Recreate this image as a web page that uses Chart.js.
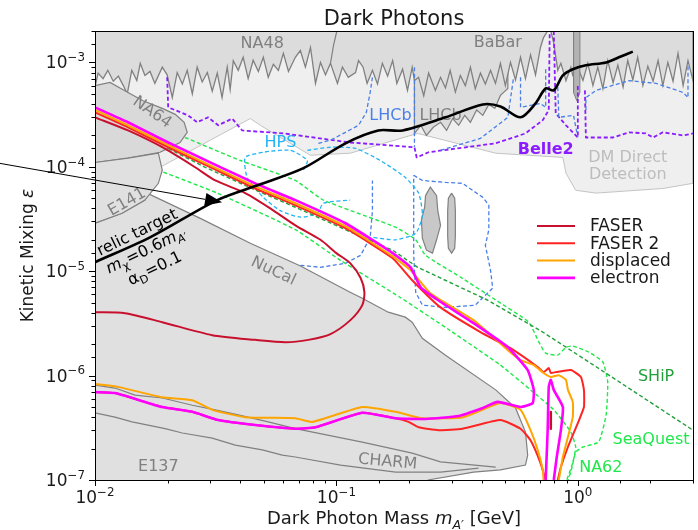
<!DOCTYPE html>
<html>
<head>
<meta charset="utf-8">
<script src="https://cdn.jsdelivr.net/npm/chart.js@4.4.0/dist/chart.umd.min.js"></script>
<style>
  html, body { margin: 0; padding: 0; background: #fff; }
  #wrap { width: 698px; height: 530px; }
</style>
</head>
<body>
<div id="wrap"><canvas id="dp" width="698" height="530"></canvas></div>
<script>
// values: mass m_A' in GeV, kinetic mixing eps

// light grey band (below NA48/BaBar, DM direct detection)
const lightM = [0.01, 3.0, 3.0, 2.25, 1.19, 0.98, 0.893, 0.867, 0.457, 0.217, 0.114, 0.078, 0.0484, 0.044, 0.0186, 0.01];
const lightE = [2e-3, 2e-3, 6.95e-5, 6.2e-5, 5.6e-5, 5.96e-5, 8.7e-5, 1.23e-4, 1.35e-4, 2.09e-4, 1.35e-4, 1.29e-4, 2.5e-4, 2.9e-4, 9.9e-5, 1.03e-4];

// NA48 / BaBar lower edge
const jagM = [0.0100,0.0103,0.0108,0.0113,0.0119,0.0125,0.0131,0.0136,0.0142,0.0149,
  0.0154,0.0161,0.0169,0.0177,0.0190,0.0199,0.0209,0.0219,0.0230,0.0241,
  0.0253,0.0265,0.0278,0.0292,0.0306,0.0321,0.0336,0.0353,0.0363,0.0374,
  0.0392,0.0411,0.0431,0.0452,0.0475,0.0498,0.0522,0.0548,0.0575,0.0603,
  0.0633,0.0676,0.0709,0.0744,0.0781,0.0819,0.0859,0.0901,0.0945,0.1010,
  0.1059,0.112,0.120,0.1235,0.129,0.134,0.141,0.148,0.155,0.163,
  0.171,0.178,0.188,0.197,0.206,0.2105,0.219,0.230,0.241,0.257,
  0.270,0.283,0.296,0.311,0.326,0.342,0.359,0.376,0.395,0.414,
  0.435,0.456,0.478,0.501,0.526,0.552,0.579,0.607,0.637,0.668,
  0.700,0.721,0.750,0.773,0.795,0.826,0.851,0.893,0.936,0.953,
  1.01,1.05,1.10,1.155,1.21,1.27,1.33,1.40,1.465,1.54,
  1.61,1.69,1.77,1.86,1.95,2.05,2.15,2.25,2.36,2.48,
  2.60,2.73,2.86,3.0];
const jagE = [5.8e-4,7.9e-4,7.0e-4,8.4e-4,6.6e-4,7.4e-4,6.0e-4,5.0e-4,8.4e-4,6.7e-4,
  9.8e-4,7.5e-4,8.2e-4,6.3e-4,9.0e-4,7.6e-4,4.6e-4,8.0e-4,6.2e-4,8.4e-4,
  5.0e-4,9.0e-4,6.5e-4,8.0e-4,5.3e-4,7.9e-4,4.6e-4,9.0e-4,5.5e-4,1.04e-3,
  8.4e-4,1.12e-3,7.0e-4,1.05e-3,8.2e-4,1.12e-3,7.2e-4,9.6e-4,8.4e-4,1.22e-3,
  8.2e-4,1.12e-3,1.30e-3,9.0e-4,1.39e-3,6.3e-4,1.0e-3,7.6e-4,9.8e-4,6.3e-4,
  9.0e-4,7.2e-4,8.0e-4,1.04e-3,9.0e-4,6.3e-4,8.4e-4,6.2e-4,9.8e-4,7.4e-4,
  1.04e-3,6.3e-4,8.6e-4,5.4e-4,9.0e-4,6.7e-4,7.2e-4,4.8e-4,7.9e-4,5.4e-4,
  7.2e-4,5.7e-4,8.4e-4,5.2e-4,7.5e-4,6.0e-4,9.0e-4,5.6e-4,7.9e-4,6.2e-4,
  8.4e-4,6.3e-4,9.8e-4,6.0e-4,1.0e-3,6.8e-4,1.12e-3,7.0e-4,1.18e-3,7.6e-4,
  1.39e-3,1.73e-3,2.0e-3,2.0e-3,1.52e-3,8.4e-4,9.8e-4,6.7e-4,9.0e-4,7.5e-4,
  8.4e-4,6.7e-4,9.8e-4,6.0e-4,9.0e-4,5.6e-4,1.04e-3,6.4e-4,9.4e-4,5.8e-4,
  1.04e-3,6.8e-4,1.12e-3,6.0e-4,9.2e-4,6.6e-4,1.04e-3,6.0e-4,1.0e-3,6.6e-4,
  1.22e-3,6.0e-4,1.04e-3,6.7e-4];

const splitM = [0.0945, 0.0973, 0.1004];
const splitE = [9.8e-4, 1.46e-3, 2.0e-3];

// LHCb grey piece
const lhcbGM = [0.2105,0.2105,0.2235,0.236,0.252,0.270,0.286,0.303,0.321,0.340,0.359,0.381,0.404,0.428,0.453,0.478,0.513,0.513];
const lhcbGE = [1.04e-3,2.09e-4,2.5e-4,2.0e-4,2.39e-4,2.67e-4,2.23e-4,2.9e-4,2.5e-4,3.11e-4,2.67e-4,3.5e-4,3.11e-4,3.96e-4,3.63e-4,4.83e-4,5.64e-4,1.04e-3];

const phiM = [0.96, 0.96, 0.99, 1.02, 1.02];
const phiE = [2e-3, 5.16e-4, 4.3e-4, 5.16e-4, 2e-3];

const na64M = [0.01,0.01154,0.0137,0.0158,0.019,0.0215,0.0234,0.0241,0.0225,0.0186,0.0137,0.01];
const na64E = [6.0e-4,6.44e-4,5.16e-4,4.3e-4,3.63e-4,3.18e-4,2.67e-4,2.14e-4,1.71e-4,1.38e-4,1.21e-4,1.10e-4];

const e141M = [0.01,0.0137,0.0183,0.019,0.0183,0.0161,0.01294,0.01];
const e141E = [1.10e-4,1.21e-4,1.35e-4,9.3e-5,6.95e-5,4.8e-5,3.59e-5,2.88e-5];

// NuCal + E137 + CHARM
const lowM = [0.01,0.01,0.01294,0.0161,0.01644,0.0273,0.044,0.071,0.114,0.128,0.164,0.193,0.206,0.227,0.283,0.457,0.552,0.607,0.620,0.607,0.478,0.370,0.239];
const lowE = [1e-7,2.88e-5,3.59e-5,4.8e-5,5.6e-5,3.21e-5,1.85e-5,1.12e-5,6.3e-6,5.5e-6,4.05e-6,3.63e-6,3.25e-6,2.28e-6,1.57e-6,7.3e-7,4.9e-7,2.88e-7,1.73e-7,1.39e-7,1.25e-7,1.19e-7,1e-7];

const e137aM = [0.01,0.0121,0.01465,0.019,0.0253,0.0315,0.0392,0.0522,0.0676,0.128,0.206,0.270,0.457];
const e137aE = [8.1e-7,7.6e-7,6.5e-7,6.1e-7,5.2e-7,4.7e-7,4.2e-7,3.6e-7,3.1e-7,2.31e-7,1.81e-7,1.49e-7,1.33e-7];
const e137bM = [0.01,0.0121,0.01424,0.01952,0.023,0.0306,0.0381,0.0493,0.0597,0.0676,0.104,0.176,0.270,0.388];
const e137bE = [4.4e-7,4.0e-7,3.6e-7,3.1e-7,2.82e-7,2.52e-7,2.16e-7,1.94e-7,1.73e-7,1.66e-7,1.39e-7,1.19e-7,1.19e-7,1.30e-7];

// KLOE islands
const blobM = [0.234,0.245,0.260,0.263,0.270,0.260,0.250,0.236,0.227,0.225,0.232,0.234];
const blobE = [5.3e-5,6.4e-5,5.3e-5,3.8e-5,2.75e-5,2.0e-5,1.49e-5,1.59e-5,2.07e-5,3.1e-5,4.1e-5,5.3e-5];
const ovalM = [0.300,0.309,0.311,0.311,0.311,0.309,0.300,0.291,0.289,0.289,0.289,0.291,0.300];
const ovalE = [5.6e-5,5.0e-5,3.8e-5,2.88e-5,2.16e-5,1.66e-5,1.49e-5,1.66e-5,2.16e-5,2.88e-5,3.8e-5,5.0e-5,5.6e-5];

// Belle2 projection
const b2aM = [0.0199,0.0201,0.0243,0.0265,0.0294,0.0324,0.037,0.0407,0.0603,0.114,0.2105,0.215,0.241,0.457,0.607,0.716,0.758,0.765];
const b2aE = [7.2e-4,3.71e-4,3.11e-4,2.67e-4,2.98e-4,2.5e-4,2.9e-4,2.23e-4,2.09e-4,1.71e-4,1.54e-4,1.23e-4,1.38e-4,1.68e-4,2.09e-4,2.8e-4,3.5e-4,2.0e-3];
const b2bM = [0.795,0.810,0.893,1.0,1.0];
const b2bE = [2.0e-3,3.25e-4,2.5e-4,1.91e-4,6.0e-4];
const b2cM = [1.07,1.08,1.40,1.63,1.91,2.05,2.25,2.73,3.0];
const b2cE = [5.4e-4,1.91e-4,1.91e-4,2.14e-4,2.09e-4,1.91e-4,2.14e-4,2.0e-4,2.09e-4];

// LHCb projections
const lhAM = [0.141,0.138,0.133,0.1235,0.107,0.0945,0.0842];
const lhAE = [7.2e-4,5.16e-4,3.32e-4,2.5e-4,2.09e-4,1.8e-4,1.68e-4];
const lhBM = [0.2105,0.2105];
const lhBE = [9.0e-4,1.54e-4];
const lhCM = [0.270,0.395,0.513,0.542];
const lhCE = [1.44e-4,1.87e-4,2.98e-4,7.2e-4];
const lhDM = [0.579,0.579,0.700,0.736,0.736];
const lhDE = [7.2e-4,3.71e-4,4.05e-4,3.71e-4,9.0e-4];
const lhEM = [0.826,0.834,0.96,1.0];
const lhEE = [5.8e-4,2.98e-4,3.11e-4,1.91e-4];
const lhFM = [1.08,1.08,1.19,1.63,2.11,2.73,2.86,2.86];
const lhFE = [3.5e-4,4.6e-4,5.4e-4,6.7e-4,6.3e-4,5.16e-4,4.6e-4,9.8e-4];
const lhGM = [0.209,0.227,0.283,0.333,0.404,0.428,0.428,0.414,0.435,0.444,0.376,0.283,0.227,0.213,0.209,0.209];
const lhGE = [8.3e-5,7.4e-5,7.1e-5,6.95e-5,5.1e-5,4.28e-5,2.5e-5,1.77e-5,1.02e-5,6.9e-6,4.73e-6,4.5e-6,4.73e-6,6.3e-6,1.42e-5,8.3e-5];
const lhHM = [0.071,0.0859,0.109,0.126,0.138,0.141,0.141];
const lhHE = [1.14e-5,1.09e-5,1.19e-5,1.42e-5,2.11e-5,3.8e-5,7.4e-5];

// HPS projections
const hpsAM = [0.073,0.0758,0.0645,0.0498,0.0419,0.0427,0.0498,0.0586,0.071,0.0834,0.0883,0.114];
const hpsAE = [9.3e-5,1.15e-4,1.44e-4,1.38e-4,1.23e-4,7.9e-5,5.1e-5,3.8e-5,3.29e-5,3.59e-5,4.48e-5,4.8e-5];
const hpsBM = [0.0758,0.0945,0.120,0.152,0.193,0.219,0.227,0.213,0.176,0.141];
const hpsBE = [1.44e-4,1.54e-4,1.50e-4,1.15e-4,7.9e-5,5.6e-5,3.44e-5,2.31e-5,2.0e-5,2.11e-5];

// SHiP, SeaQuest, NA62
const shipM = [0.0201,0.0286,0.0461,0.0676,0.109,0.171,0.217,0.422,0.700,1.25,3.0];
const shipE = [1.50e-4,9.9e-5,6.0e-5,4.1e-5,2.5e-5,1.59e-5,1.09e-5,5.3e-6,2.7e-6,1.13e-6,3.0e-7];
const seaM = [0.0236,0.040,0.0676,0.0883,0.176,0.213,0.234,0.326,0.457,0.626,0.690,0.736,0.826,0.893,0.953,1.11,1.27,1.33,1.31,1.22,1.05,0.98,0.936,0.91];
const seaE = [1.91e-4,1.15e-4,7.4e-5,4.8e-5,2.64e-5,2.0e-5,1.42e-5,8.8e-6,5.3e-6,3.25e-6,2.09e-6,1.64e-6,1.57e-6,1.87e-6,1.92e-6,1.68e-6,1.35e-6,8.7e-7,4.2e-7,2.31e-7,2.07e-7,1.85e-7,1.19e-7,1.0e-7];
const na62M = [0.0192,0.0321,0.0676,0.104,0.184,0.296,0.478,0.637,0.795,0.936,0.98,0.953,0.90];
const na62E = [8.9e-5,5.6e-5,2.5e-5,1.27e-5,5.6e-6,2.7e-6,1.26e-6,7.3e-7,4.7e-7,2.88e-7,2.07e-7,1.46e-7,1.0e-7];

// relic target
const relicM = [0.01,0.0169,0.0321,0.0484,0.073,0.109,0.149,0.188,0.283,0.404,0.478,0.579,0.668,0.736,0.795,0.867,0.953,1.08,1.31,1.48,1.69];
const relicE = [1.22e-5,2.11e-5,4.8e-5,6.8e-5,9.7e-5,1.68e-4,2.23e-4,2.23e-4,2.98e-4,3.96e-4,3.79e-4,2.98e-4,4.05e-4,5.64e-4,5.4e-4,7.5e-4,8.6e-4,9.4e-4,1.0e-3,1.12e-3,1.27e-3];

// FASER reach curves
const faserM = [0.01,0.0137,0.019,0.026,0.0315,0.0419,0.0532,0.0676,0.0859,0.1,0.1143,0.126,0.1306,0.128,0.1143,0.0945,0.0765,0.0615,0.0461,0.0306,0.019,0.0133,0.01];
const faserE = [2.98e-4,2.23e-4,1.54e-4,9.9e-5,7.4e-5,5.6e-5,4.0e-5,2.75e-5,2.0e-5,1.49e-5,1.19e-5,8.6e-6,6.3e-6,4.73e-6,3.4e-6,2.5e-6,2.2e-6,2.09e-6,2.2e-6,2.44e-6,3.25e-6,3.96e-6,4.05e-6];
const faserIsM = [0.773,0.773];
const faserIsE = [4.47e-7,3.1e-7];
const f2aM = [0.01,0.0137,0.0201,0.0306,0.0461,0.0676,0.109,0.171,0.206,0.270,0.395,0.526,0.682,0.721,0.758,0.773,0.810,0.936,1.03,1.06,1.06,1.0,0.91,0.851,0.826];
const f2aE = [3.32e-4,2.39e-4,1.54e-4,9.7e-5,6.2e-5,4.28e-5,2.58e-5,1.33e-5,8.2e-6,4.5e-6,2.61e-6,1.83e-6,1.21e-6,1.08e-6,1.18e-6,1.06e-6,1.08e-6,1.13e-6,9.7e-7,7.3e-7,5.0e-7,3.5e-7,2.07e-7,1.33e-7,1.0e-7];
const f2bM = [0.736,0.700,0.637,0.579,0.478,0.333,0.265,0.219,0.199,0.176,0.128,0.0819,0.0676,0.0461,0.0324,0.0253,0.019,0.0121,0.01];
const f2bE = [1.0e-7,1.46e-7,2.4e-7,3.1e-7,3.75e-7,3.1e-7,3.0e-7,3.2e-7,3.6e-7,3.9e-7,4.4e-7,3.2e-7,3.1e-7,3.36e-7,3.75e-7,4.5e-7,5.0e-7,6.8e-7,6.95e-7];
const dispAM = [0.01,0.0137,0.0201,0.0306,0.0461,0.0676,0.109,0.171,0.203,0.245,0.370,0.513,0.579,0.657,0.721,0.773,0.834,0.893,0.91,0.953,0.953,0.91,0.867,0.834];
const dispAE = [3.5e-4,2.5e-4,1.61e-4,1.01e-4,6.5e-5,4.48e-5,2.7e-5,1.39e-5,1.02e-5,6.15e-6,3.4e-6,1.75e-6,1.41e-6,1.26e-6,1.06e-6,9.7e-7,1.01e-6,9.1e-7,7.3e-7,5.6e-7,4.0e-7,2.58e-7,1.66e-7,1.0e-7];
const dispBM = [0.721,0.716,0.682,0.637,0.579,0.478,0.336,0.227,0.176,0.128,0.0795,0.0676,0.0419,0.0306,0.0253,0.019,0.01246,0.01];
const dispBE = [1.0e-7,1.25e-7,1.94e-7,3.0e-7,4.7e-7,5.45e-7,4.0e-7,3.9e-7,4.5e-7,5.0e-7,3.6e-7,3.9e-7,4.0e-7,4.7e-7,5.8e-7,6.2e-7,7.8e-7,8.3e-7];
const elecM = [0.01,0.0137,0.0201,0.0306,0.0461,0.0676,0.109,0.171,0.203,0.2235,0.263,0.370,0.513,0.620,0.657,0.650,0.579,0.466,0.404,0.321,0.234,0.176,0.128,0.0819,0.0676,0.0461,0.0324,0.0253,0.019,0.0121,0.01];
const elecE = [3.71e-4,2.67e-4,1.71e-4,1.08e-4,6.95e-5,4.8e-5,2.88e-5,1.49e-5,1.09e-5,7.0e-6,5.3e-6,3.18e-6,1.87e-6,1.13e-6,7.3e-7,5.45e-7,5.0e-7,5.6e-7,4.9e-7,4.1e-7,3.84e-7,3.9e-7,4.4e-7,3.2e-7,3.1e-7,3.36e-7,3.75e-7,4.5e-7,5.0e-7,6.8e-7,6.95e-7];
const elecInM = [0.736,0.750,0.758,0.773,0.795,0.867,0.851,0.818,0.795];
const elecInE = [1.0e-7,3.0e-7,7.8e-7,9.1e-7,7.3e-7,5.0e-7,3.0e-7,1.66e-7,1.0e-7];

const legendLabels = ['FASER', 'FASER 2', 'displaced', 'electron'];
const legendColors = ['#c8102e', '#ff2424', '#ffa500', '#ff00ff'];

const GRAY = '#808080';
const notes = [
  {t: 'NA48', m: 0.0493, e: 1.52e-3, c: GRAY},
  {t: 'BaBar', m: 0.466, e: 1.55e-3, c: GRAY},
  {t: 'NA64', m: 0.01724, e: 3.32e-4, c: GRAY, r: 35},
  {t: 'E141', m: 0.01358, e: 4.57e-5, c: GRAY, r: -30},
  {t: 'NuCal', m: 0.0548, e: 1.0e-5, c: GRAY, r: 25},
  {t: 'E137', m: 0.0183, e: 1.33e-7, c: GRAY},
  {t: 'CHARM', m: 0.163, e: 1.49e-7, c: GRAY, r: 5},
  {t: 'LHCb', m: 0.1675, e: 3.11e-4, c: '#4a7fe8'},
  {t: 'LHCb', m: 0.270, e: 3.11e-4, c: GRAY},
  {t: 'HPS', m: 0.0586, e: 1.71e-4, c: '#22b4f4'},
  {t: 'Belle2', m: 0.736, e: 1.44e-4, c: '#8a1cff', w: 'bold'},
  {t: 'DM Direct', m: 1.61, e: 1.23e-4, c: '#bdbdbd'},
  {t: 'Detection', m: 1.61, e: 8.3e-5, c: '#bdbdbd'},
  {t: 'SHiP', m: 2.11, e: 9.7e-7, c: '#23a03c'},
  {t: 'SeaQuest', m: 2.01, e: 2.4e-7, c: '#1fe84a'},
  {t: 'NA62', m: 1.245, e: 1.30e-7, c: '#1fe84a'}
];

const FONT = '"DejaVu Sans", sans-serif';
const ds = [];
function pts(m, e) { return m.map((v, i) => ({x: v, y: e[i]})); }
function add(o) { o.order = -ds.length; o.pointRadius = 0; o.clip = 0; ds.push(o); return o; }
function area(m, e, col, edge, w) {
  return add({data: pts(m, e), fill: 'shape', backgroundColor: col,
    borderColor: edge || 'rgba(0,0,0,0)', borderWidth: w === undefined ? 1.2 : w, tension: 0});
}
function curve(m, e, col, w, dash, tension) {
  return add({data: pts(m, e), fill: false, borderColor: col, borderWidth: w,
    borderDash: dash || [], tension: tension || 0, borderJoinStyle: 'round'});
}

// grey excluded regions
area(lightM, lightE, '#efefef', '#c4c4c4', 1);
area(lhcbGM, lhcbGE, '#dcdcdc', GRAY, 1.2);
area([0.01].concat(jagM, [3.0]), [2e-3].concat(jagE, [2e-3]), '#dcdcdc', GRAY, 1.3);
area(phiM, phiE, '#b3b3b3', GRAY, 1);
curve(splitM, splitE, GRAY, 1.2);
area(na64M, na64E, '#d9d9d9', GRAY, 1.2);
area(lowM, lowE, '#e0e0e0', GRAY, 1.2);
area(e141M, e141E, '#e0e0e0', GRAY, 1.2);
curve(e137aM, e137aE, GRAY, 1.2);
curve(e137bM, e137bE, GRAY, 1.2);
area(blobM, blobE, '#c8c8c8', GRAY, 1.2);
area(ovalM, ovalE, '#c8c8c8', GRAY, 1.2).labelsAfter = true;

// projected sensitivities (dashed)
const d = [4, 2.5];
curve(b2aM, b2aE, '#8a1cff', 1.8, d);
curve(b2bM, b2bE, '#8a1cff', 1.8, d);
curve(b2cM, b2cE, '#8a1cff', 1.8, d);
[[lhAM, lhAE], [lhBM, lhBE], [lhCM, lhCE], [lhDM, lhDE], [lhEM, lhEE], [lhFM, lhFE], [lhGM, lhGE], [lhHM, lhHE]]
  .forEach(p => curve(p[0], p[1], '#4a7fe8', 1.3, d));
curve(hpsAM, hpsAE, '#22b4f4', 1.3, d, 0.2);
curve(hpsBM, hpsBE, '#22b4f4', 1.3, d, 0.2);
curve(na62M, na62E, '#1fe84a', 1.4, d, 0.15);
curve(seaM, seaE, '#1fe84a', 1.4, d, 0.15);
curve(shipM, shipE, '#23a03c', 1.4, d);

// FASER curves
curve(faserM, faserE, legendColors[0], 2, [], 0.25);
curve(faserIsM, faserIsE, legendColors[0], 2.5);
curve(f2aM, f2aE, legendColors[1], 2, [], 0.15);
curve(f2bM, f2bE, legendColors[1], 2, [], 0.15);
curve(dispAM, dispAE, legendColors[2], 2, [], 0.15);
curve(dispBM, dispBE, legendColors[2], 2, [], 0.15);
curve(elecM, elecE, legendColors[3], 2.6, [], 0.15);
curve(elecInM, elecInE, legendColors[3], 2.6, [], 0.15);
curve(relicM, relicE, '#000000', 2.6, [], 0.3);

function isPow10(v) { const l = Math.log10(v); return Math.abs(l - Math.round(l)) < 1e-6; }

function richWidth(c, segs, size) {
  let w = 0;
  segs.forEach(s => { c.font = (s.it ? 'italic ' : '') + (s.sub || s.sup ? size * 0.7 : size) + 'px ' + FONT; w += c.measureText(s.t).width; });
  return w;
}
function rich(c, segs, x, y, size, align) {
  let cx = x;
  if (align === 'center') cx = x - richWidth(c, segs, size) / 2;
  if (align === 'right') cx = x - richWidth(c, segs, size);
  c.textAlign = 'left';
  c.textBaseline = 'alphabetic';
  segs.forEach(s => {
    const sz = s.sub || s.sup ? size * 0.7 : size;
    c.font = (s.it ? 'italic ' : '') + sz + 'px ' + FONT;
    const dy = s.sub ? size * 0.25 : (s.sup ? -size * 0.42 : 0);
    c.fillText(s.t, cx, y + dy);
    cx += c.measureText(s.t).width;
  });
}
function powSegs(v) {
  const n = Math.round(Math.log10(v));
  return [{t: '10'}, {t: n < 0 ? '\u2212' + (-n) : String(n), sup: true}];
}

const decor = {
  id: 'decor',
  beforeDraw(chart) {
    const c = chart.ctx;
    c.save(); c.fillStyle = '#fff'; c.fillRect(0, 0, chart.width, chart.height); c.restore();
  },
  afterDatasetDraw(chart, args) {
    if (!chart.data.datasets[args.index].labelsAfter) return;
    const c = chart.ctx, sx = chart.scales.x, sy = chart.scales.y;
    notes.forEach(n => {
      c.save();
      c.translate(sx.getPixelForValue(n.m), sy.getPixelForValue(n.e));
      c.rotate((n.r || 0) * Math.PI / 180);
      c.font = (n.w ? n.w + ' ' : '') + '16px ' + FONT;
      c.fillStyle = n.c; c.textAlign = 'center'; c.textBaseline = 'middle';
      c.fillText(n.t, 0, 0);
      c.restore();
    });
  },
  afterDraw(chart) {
    const c = chart.ctx, sx = chart.scales.x, sy = chart.scales.y;
    const a = chart.chartArea;
    c.save();
    // frame
    c.strokeStyle = '#000'; c.lineWidth = 1;
    c.strokeRect(Math.round(a.left) + 0.5, Math.round(a.top) + 0.5, Math.round(a.right - a.left), Math.round(a.bottom - a.top));
    // ticks
    c.beginPath();
    sx.ticks.forEach(t => {
      const px = Math.round(sx.getPixelForValue(t.value)) + 0.5, L = isPow10(t.value) ? 6 : 3.5;
      c.moveTo(px, a.bottom); c.lineTo(px, a.bottom + L);
    });
    sy.ticks.forEach(t => {
      const py = Math.round(sy.getPixelForValue(t.value)) + 0.5, L = isPow10(t.value) ? 6 : 3.5;
      c.moveTo(a.left, py); c.lineTo(a.left - L, py);
    });
    c.stroke();
    c.fillStyle = '#1a1a1a';
    sx.ticks.forEach(t => {
      if (!isPow10(t.value)) return;
      rich(c, powSegs(t.value), sx.getPixelForValue(t.value), a.bottom + 23, 17, 'center');
    });
    sy.ticks.forEach(t => {
      if (!isPow10(t.value)) return;
      rich(c, powSegs(t.value), a.left - 10, sy.getPixelForValue(t.value) + 6, 17, 'right');
    });
    // axis titles
    rich(c, [{t: 'Dark Photon Mass '}, {t: 'm', it: true}, {t: 'A\u2032', sub: true, it: true}, {t: ' [GeV]'}],
      (a.left + a.right) / 2, 524, 18, 'center');
    c.save();
    c.translate(33, (a.top + a.bottom) / 2);
    c.rotate(-Math.PI / 2);
    rich(c, [{t: 'Kinetic Mixing '}, {t: '\u03b5', it: true}], 0, 0, 17, 'center');
    c.restore();
    // title
    c.font = '21px ' + FONT; c.textAlign = 'center'; c.textBaseline = 'alphabetic';
    c.fillText('Dark Photons', (a.left + a.right) / 2, 25);
    // relic target label
    c.save();
    c.fillStyle = '#000';
    c.translate(sx.getPixelForValue(0.01494), sy.getPixelForValue(2.36e-5));
    c.rotate(-26 * Math.PI / 180);
    rich(c, [{t: 'relic target'}], 0, 5, 16, 'center');
    rich(c, [{t: 'm', it: true}, {t: '\u03c7', sub: true}, {t: '=0.6'}, {t: 'm', it: true}, {t: 'A\u2032', sub: true, it: true}], 0, 25, 16, 'center');
    rich(c, [{t: '\u03b1'}, {t: 'D', sub: true}, {t: '=0.1'}], 0, 45, 16, 'center');
    c.restore();
    // legend
    legendLabels.forEach((lab, i) => {
      const y = 226 + i * 17.3;
      c.strokeStyle = legendColors[i]; c.lineWidth = i === 3 ? 2.6 : 2;
      c.beginPath(); c.moveTo(537, y); c.lineTo(575, y); c.stroke();
      c.fillStyle = '#1a1a1a'; c.font = '17px ' + FONT; c.textAlign = 'left'; c.textBaseline = 'middle';
      c.fillText(lab, 590, y + 1);
    });
    // arrow pointing at the relic line
    const x0 = sx.getPixelForValue(0.00403), y0 = sy.getPixelForValue(1.08e-4);
    const x1 = sx.getPixelForValue(0.0336), y1 = sy.getPixelForValue(4.57e-5);
    const ang = Math.atan2(y1 - y0, x1 - x0), hl = 17, hw = 6.5;
    const bx = x1 - hl * Math.cos(ang), by = y1 - hl * Math.sin(ang);
    c.strokeStyle = '#000'; c.lineWidth = 1;
    c.beginPath(); c.moveTo(x0, y0); c.lineTo(bx, by); c.stroke();
    c.fillStyle = '#000';
    c.beginPath();
    c.moveTo(x1, y1);
    c.lineTo(bx + hw * Math.sin(ang), by - hw * Math.cos(ang));
    c.lineTo(bx - hw * Math.sin(ang), by + hw * Math.cos(ang));
    c.closePath(); c.fill();
    c.restore();
  }
};

new Chart(document.getElementById('dp'), {
  type: 'line',
  data: {datasets: ds},
  options: {
    responsive: false,
    animation: false,
    devicePixelRatio: 1,
    layout: {padding: {left: 95, right: 5, top: 31, bottom: 50}},
    plugins: {legend: {display: false}, tooltip: {enabled: false}},
    scales: {
      x: {type: 'logarithmic', min: 0.01, max: 3,
        ticks: {display: false}, grid: {display: false}, border: {display: false},
        afterFit: s => { s.height = 0; }},
      y: {type: 'logarithmic', min: 1e-7, max: 2e-3,
        ticks: {display: false}, grid: {display: false}, border: {display: false},
        afterFit: s => { s.width = 0; }}
    }
  },
  plugins: [decor]
});
</script>
</body>
</html>
